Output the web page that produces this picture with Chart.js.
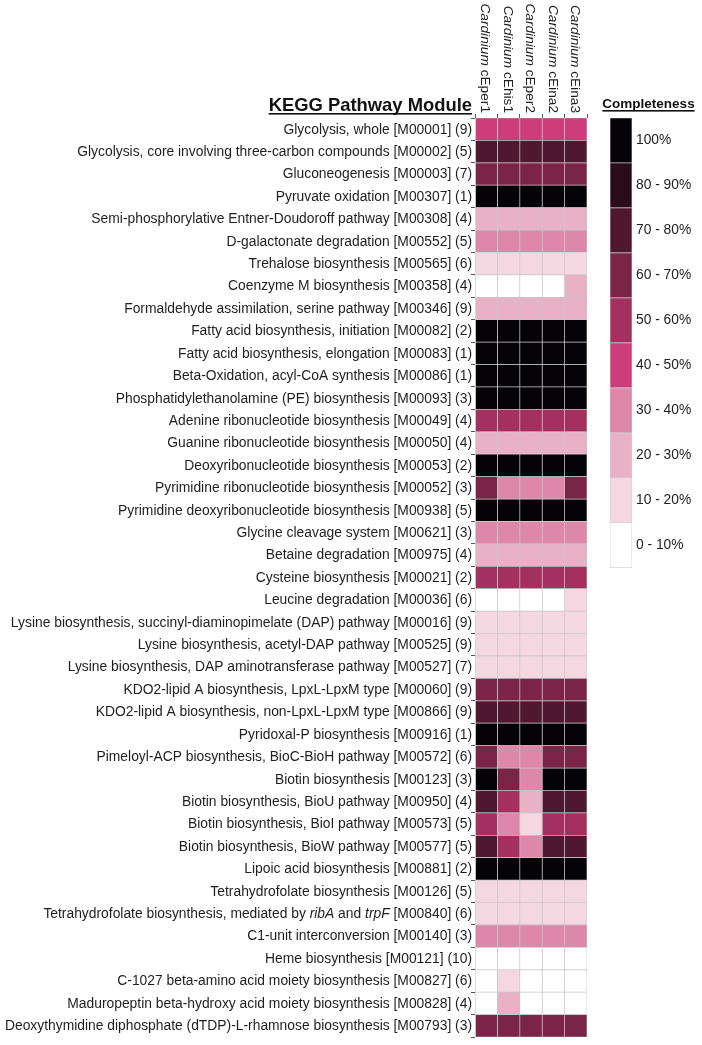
<!DOCTYPE html>
<html>
<head>
<meta charset="utf-8">
<script src="https://cdn.jsdelivr.net/npm/chart.js@4.4.1/dist/chart.umd.min.js"></script>
<style>
  html, body { margin: 0; padding: 0; background: #fff; }
  #wrap { position: relative; width: 702px; height: 1045px; }
  #heat { position: absolute; left: 0; top: 0; }
  #key { position: absolute; left: 600px; top: 90px; }
</style>
</head>
<body>
<div id="wrap">
  <canvas id="heat" width="600" height="1045"></canvas>
  <canvas id="key" width="102" height="490"></canvas>
</div>
<script>
// heatmap of KEGG module completeness per Cardinium genome
const FONT = '"Liberation Sans", Arial, sans-serif';

const genomes = ['cEper1', 'cEhis1', 'cEper2', 'cEina2', 'cEina3'];

const modules = [
  'Glycolysis, whole [M00001] (9)',
  'Glycolysis, core involving three-carbon compounds [M00002] (5)',
  'Gluconeogenesis [M00003] (7)',
  'Pyruvate oxidation [M00307] (1)',
  'Semi-phosphorylative Entner-Doudoroff pathway [M00308] (4)',
  'D-galactonate degradation [M00552] (5)',
  'Trehalose biosynthesis [M00565] (6)',
  'Coenzyme M biosynthesis [M00358] (4)',
  'Formaldehyde assimilation, serine pathway [M00346] (9)',
  'Fatty acid biosynthesis, initiation [M00082] (2)',
  'Fatty acid biosynthesis, elongation [M00083] (1)',
  'Beta-Oxidation, acyl-CoA synthesis [M00086] (1)',
  'Phosphatidylethanolamine (PE) biosynthesis [M00093] (3)',
  'Adenine ribonucleotide biosynthesis [M00049] (4)',
  'Guanine ribonucleotide biosynthesis [M00050] (4)',
  'Deoxyribonucleotide biosynthesis [M00053] (2)',
  'Pyrimidine ribonucleotide biosynthesis [M00052] (3)',
  'Pyrimidine deoxyribonucleotide biosynthesis [M00938] (5)',
  'Glycine cleavage system [M00621] (3)',
  'Betaine degradation [M00975] (4)',
  'Cysteine biosynthesis [M00021] (2)',
  'Leucine degradation [M00036] (6)',
  'Lysine biosynthesis, succinyl-diaminopimelate (DAP) pathway [M00016] (9)',
  'Lysine biosynthesis, acetyl-DAP pathway [M00525] (9)',
  'Lysine biosynthesis, DAP aminotransferase pathway [M00527] (7)',
  'KDO2-lipid A biosynthesis, LpxL-LpxM type [M00060] (9)',
  'KDO2-lipid A biosynthesis, non-LpxL-LpxM type [M00866] (9)',
  'Pyridoxal-P biosynthesis [M00916] (1)',
  'Pimeloyl-ACP biosynthesis, BioC-BioH pathway [M00572] (6)',
  'Biotin biosynthesis [M00123] (3)',
  'Biotin biosynthesis, BioU pathway [M00950] (4)',
  'Biotin biosynthesis, BioI pathway [M00573] (5)',
  'Biotin biosynthesis, BioW pathway [M00577] (5)',
  'Lipoic acid biosynthesis [M00881] (2)',
  'Tetrahydrofolate biosynthesis [M00126] (5)',
  'Tetrahydrofolate biosynthesis, mediated by ribA and trpF [M00840] (6)',
  'C1-unit interconversion [M00140] (3)',
  'Heme biosynthesis [M00121] (10)',
  'C-1027 beta-amino acid moiety biosynthesis [M00827] (6)',
  'Maduropeptin beta-hydroxy acid moiety biosynthesis [M00828] (4)',
  'Deoxythymidine diphosphate (dTDP)-L-rhamnose biosynthesis [M00793] (3)'
];
const italicWords = ['ribA', 'trpF'];

// completeness bin (lower bound, %) per module, one array per genome
const cEper1 = [40, 70, 60, 100, 20, 30, 10, 0, 20, 100, 100, 100, 100, 50, 20, 100, 60, 100, 30, 20, 50, 0, 10, 10, 10, 60, 70, 100, 60, 100, 70, 50, 70, 100, 10, 10, 30, 0, 0, 0, 60];
const cEhis1 = [40, 70, 60, 100, 20, 30, 10, 0, 20, 100, 100, 100, 100, 50, 20, 100, 30, 100, 30, 20, 50, 0, 10, 10, 10, 60, 70, 100, 30, 60, 50, 30, 50, 100, 10, 10, 30, 0, 10, 20, 60];
const cEper2 = [40, 70, 60, 100, 20, 30, 10, 0, 20, 100, 100, 100, 100, 50, 20, 100, 30, 100, 30, 20, 50, 0, 10, 10, 10, 60, 70, 100, 30, 30, 20, 10, 30, 100, 10, 10, 30, 0, 0, 0, 60];
const cEina2 = [40, 70, 60, 100, 20, 30, 10, 0, 20, 100, 100, 100, 100, 50, 20, 100, 30, 100, 30, 20, 50, 0, 10, 10, 10, 60, 70, 100, 60, 100, 70, 50, 70, 100, 10, 10, 30, 0, 0, 0, 60];
const cEina3 = [40, 70, 60, 100, 20, 30, 10, 20, 20, 100, 100, 100, 100, 50, 20, 100, 60, 100, 30, 20, 50, 10, 10, 10, 10, 60, 70, 100, 60, 100, 70, 50, 70, 100, 10, 10, 30, 0, 0, 0, 60];
const series = [cEper1, cEhis1, cEper2, cEina2, cEina3];

// legend bins
const binStarts = [100, 80, 70, 60, 50, 40, 30, 20, 10, 0];
const binLabels = ['100%', '80 - 90%', '70 - 80%', '60 - 70%', '50 - 60%', '40 - 50%', '30 - 40%', '20 - 30%', '10 - 20%', '0 - 10%'];
const binColors = ['#050307', '#2b0c1c', '#4f1830', '#7a2448', '#a4305f', '#cd3d79', '#dd88aa', '#e9b1c6', '#f4d7e1', '#ffffff'];

const colorFor = v => binColors[binStarts.indexOf(v)];

function splitItalic(s) {
  const re = new RegExp('(' + italicWords.join('|') + ')');
  return s.split(re).filter(t => t).map(t => ({ t, it: italicWords.includes(t) }));
}

// draws text made of italic / normal parts, right or left aligned at x
function drawRich(ctx, parts, x, y, size, align) {
  const fontOf = p => (p.it ? 'italic ' : '') + size + 'px ' + FONT;
  let total = 0;
  parts.forEach(p => { ctx.font = fontOf(p); total += ctx.measureText(p.t).width; });
  let cx = align === 'right' ? x - total : x;
  ctx.textAlign = 'left';
  parts.forEach(p => {
    ctx.font = fontOf(p);
    ctx.fillText(p.t, cx, y);
    cx += ctx.measureText(p.t).width;
  });
}

function underlinedTitle(ctx, text, x, y, size, align) {
  ctx.font = 'bold ' + size + 'px ' + FONT;
  const w = ctx.measureText(text).width;
  const x0 = align === 'right' ? x - w : (align === 'center' ? x - w / 2 : x);
  ctx.textAlign = 'left';
  ctx.textBaseline = 'alphabetic';
  ctx.fillText(text, x0, y);
  ctx.fillRect(x0, y + 2, w, 1.6);
}

const heatLabels = {
  id: 'heatLabels',
  afterDraw(chart) {
    const { ctx, chartArea, scales } = chart;
    ctx.save();
    ctx.fillStyle = '#1e1e1e';
    ctx.textBaseline = 'middle';
    modules.forEach((m, i) => {
      drawRich(ctx, splitItalic(m), chartArea.left - 3, scales.y.getPixelForValue(i) + 0.5, 13.85, 'right');
    });
    genomes.forEach((g, j) => {
      ctx.save();
      ctx.translate(scales.x.getPixelForValue(j + 0.5) - 1, chartArea.top - 5);
      ctx.rotate(Math.PI / 2);
      drawRich(ctx, [{ t: 'Cardinium ', it: true }, { t: g, it: false }], 0, 0, 13.7, 'right');
      ctx.restore();
    });
    ctx.fillStyle = '#111';
    underlinedTitle(ctx, 'KEGG Pathway Module', chartArea.left - 3, 111, 18.4, 'right');
    ctx.restore();
  }
};

new Chart(document.getElementById('heat'), {
  type: 'bar',
  data: {
    labels: modules,
    datasets: series.map((vals, j) => ({
      label: genomes[j],
      data: vals.map(() => 1),
      backgroundColor: vals.map(colorFor),
      borderColor: '#c6c6c6',
      borderWidth: 0.7,
      borderSkipped: false,
      categoryPercentage: 1,
      barPercentage: 1
    }))
  },
  options: {
    indexAxis: 'y',
    responsive: false,
    devicePixelRatio: 1,
    animation: false,
    layout: { padding: { left: 0, top: 118, right: 13, bottom: 8 } },
    plugins: { legend: { display: false }, tooltip: { enabled: false } },
    scales: {
      x: {
        type: 'linear', position: 'top', stacked: true, min: 0, max: 5,
        ticks: { display: false, stepSize: 1 },
        grid: { drawOnChartArea: false, drawTicks: true, tickLength: 4, color: '#555' },
        border: { display: false },
        afterFit: s => { s.height = 0; }
      },
      y: {
        type: 'category', stacked: true, offset: true,
        ticks: { display: false },
        grid: { offset: true, drawOnChartArea: false, drawTicks: true, tickLength: 4, color: '#555' },
        border: { display: false },
        afterFit: s => { s.width = 475; }
      }
    }
  },
  plugins: [heatLabels]
});

const keyTitle = {
  id: 'keyTitle',
  afterDraw(chart) {
    const ctx = chart.ctx;
    ctx.save();
    ctx.fillStyle = '#111';
    underlinedTitle(ctx, 'Completeness', 48.5, 18, 13.5, 'center');
    ctx.restore();
  }
};

new Chart(document.getElementById('key'), {
  type: 'bar',
  data: {
    labels: binLabels,
    datasets: [{
      data: binLabels.map(() => 1),
      backgroundColor: binColors,
      borderColor: '#cfcfcf',
      borderWidth: 0.7,
      borderSkipped: false,
      categoryPercentage: 1,
      barPercentage: 1
    }]
  },
  options: {
    indexAxis: 'y',
    responsive: false,
    devicePixelRatio: 1,
    animation: false,
    layout: { padding: { left: 10, top: 28, right: 0, bottom: 12 } },
    plugins: { legend: { display: false }, tooltip: { enabled: false } },
    scales: {
      x: { display: false, min: 0, max: 1 },
      y: {
        position: 'right',
        grid: { display: false, drawTicks: false },
        border: { display: false },
        ticks: { color: '#1e1e1e', padding: 4, font: { size: 13.8, family: FONT } },
        afterFit: s => { s.width = 70; }
      }
    }
  },
  plugins: [keyTitle]
});
</script>
</body>
</html>
